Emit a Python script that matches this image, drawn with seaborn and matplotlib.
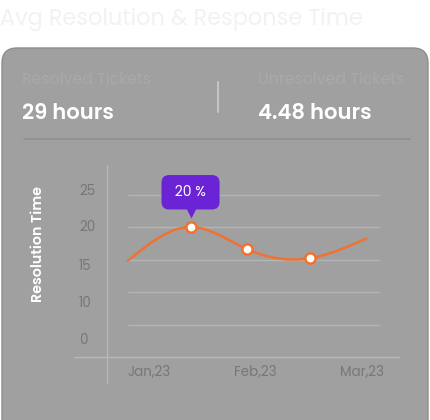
import numpy as np
import pandas as pd
import seaborn as sns
import matplotlib
matplotlib.use("Agg")
import matplotlib.pyplot as plt
from matplotlib.patches import FancyBboxPatch
from matplotlib.lines import Line2D
import matplotlib.transforms as mtransforms

# ---- data ----
month_labels = ["Jan,23", "Feb,23", "Mar,23"]
month_pos = [0, 1, 2]
point_x = [-0.2, 0.39, 0.92, 1.51, 2.04]
point_y = [14.8, 20.0, 16.6, 15.2, 18.2]
marker_idx = [1, 2, 3]
grid_values = [5, 10, 15, 20, 25]
ytick_labels = ["0", "10", "15", "20", "25"]
ytick_pos = [2.9, 8.6, 14.3, 20.2, 25.8]
tooltip_text = "20 %"
title_text = "Avg Resolution & Response Time"
kpi_labels = ["Resolved Tickets", "Unresolved Tickets"]
kpi_values = ["29 hours", "4.48 hours"]


def natural_spline(x, y, n=300):
    x = np.asarray(x, float); y = np.asarray(y, float)
    k = len(x); h = np.diff(x)
    A = np.zeros((k, k)); b = np.zeros(k)
    A[0, 0] = A[-1, -1] = 1
    for i in range(1, k - 1):
        A[i, i - 1] = h[i - 1]; A[i, i] = 2 * (h[i - 1] + h[i]); A[i, i + 1] = h[i]
        b[i] = 6 * ((y[i + 1] - y[i]) / h[i] - (y[i] - y[i - 1]) / h[i - 1])
    M = np.linalg.solve(A, b)
    xs = np.linspace(x[0], x[-1], n); ys = np.empty_like(xs)
    for j, t in enumerate(xs):
        i = min(np.searchsorted(x, t, side="right") - 1, k - 2)
        a = x[i + 1] - t; c = t - x[i]
        ys[j] = (M[i] * a**3 + M[i + 1] * c**3) / (6 * h[i]) + \
                (y[i] / h[i] - M[i] * h[i] / 6) * a + (y[i + 1] / h[i] - M[i + 1] * h[i] / 6) * c
    return xs, ys


sns.set_theme(style="white")
plt.rcParams["font.family"] = ["Poppins", "Open Sans", "DejaVu Sans"]

W, H = 430, 420
fig = plt.figure(figsize=(W / 100, H / 100), dpi=100)
fig.patch.set_facecolor("white")

def fx(px): return px / W
def fy(py): return 1 - py / H

# card
card = FancyBboxPatch((fx(2), -0.1), fx(426), fy(48) + 0.1,
                      boxstyle="round,pad=0,rounding_size=0.035",
                      mutation_aspect=W / H, transform=fig.transFigure,
                      fc="#a0a0a0", ec="#8c8c8c", lw=1.0, zorder=-5)
fig.patches.append(card)

fig.text(fx(0), fy(19.5), title_text, fontsize=16.1, color="#f2f2f2", va="center", ha="left")
fig.text(fx(22), fy(80), kpi_labels[0], fontsize=11.4, color="#a9a9a9", va="center", ha="left")
fig.text(fx(258), fy(80), kpi_labels[1], fontsize=11.4, color="#a9a9a9", va="center", ha="left")
fig.text(fx(22), fy(114.5), kpi_values[0], fontsize=15.2, color="white", weight="semibold", va="center", ha="left")
fig.text(fx(258), fy(114.5), kpi_values[1], fontsize=15.2, color="white", weight="semibold", va="center", ha="left")
fig.lines.append(Line2D([fx(217.5), fx(217.5)], [fy(82), fy(112)], transform=fig.transFigure,
                        color="#c4c4c4", lw=1.5))
fig.lines.append(Line2D([fx(24), fx(410)], [fy(139.5), fy(139.5)], transform=fig.transFigure,
                        color="#8f8f8f", lw=1.2))
fig.text(fx(38), fy(244), "Resolution Time", fontsize=10.3, color="white", weight="semibold",
         rotation=90, va="center", ha="center")

# chart axes: pixel x 74..400, y 165..384
ax = fig.add_axes([fx(74), fy(384), fx(326), (384 - 165) / H])
ax.set_zorder(2)
ax.set_facecolor("none")
for s in ax.spines.values():
    s.set_visible(False)
xpx = lambda p: (p - 149) / 106.5
ypx = lambda p: (357 - p) / 6.5
ax.set_xlim(xpx(74), xpx(400))
ax.set_ylim(ypx(384), ypx(165))

ax.hlines(grid_values, xpx(128), xpx(380), color="#b5b5b5", lw=1.0, zorder=1)
ax.axhline(0, color="#b8b8b8", lw=1.0, zorder=1)
ax.axvline(xpx(107), color="#b8b8b8", lw=0.9, zorder=1)

xs, ys = natural_spline(point_x, point_y)
df_line = pd.DataFrame({"x": xs, "y": ys})
sns.lineplot(data=df_line, x="x", y="y", ax=ax, color="#f07232", lw=1.8, zorder=3,
             estimator=None, sort=False)
df_pts = pd.DataFrame({"x": [point_x[i] for i in marker_idx], "y": [point_y[i] for i in marker_idx]})
sns.scatterplot(data=df_pts, x="x", y="y", ax=ax, s=55, color="white", edgecolor="#f07232",
                linewidth=1.8, zorder=4)

ax.set_xticks(month_pos)
ax.set_xticklabels(month_labels)
ax.set_yticks(ytick_pos)
ax.set_yticklabels(ytick_labels)
ax.tick_params(axis="x", length=0, pad=-13.5, labelsize=9.7, labelcolor="#777777")
ax.tick_params(axis="y", length=0, pad=-3.6, labelsize=9.7, labelcolor="#777777")
for lab in ax.get_yticklabels():
    lab.set_horizontalalignment("left")
ax.set_xlabel(""); ax.set_ylabel("")

# tooltip
px_, py_ = point_x[1], point_y[1]
ax.annotate(" " + tooltip_text + " ", xy=(px_, py_), xytext=(0, 25), textcoords="offset points",
            ha="center", va="center", fontsize=10, color="white", zorder=6,
            bbox=dict(boxstyle="round,pad=0.7,rounding_size=0.55", fc="#6a24d6", ec="none"))
tri = mtransforms.offset_copy(ax.transData, fig=fig, x=0, y=14.5, units="dots")
ax.plot([px_], [py_], marker="v", ms=7, color="#6a24d6", mec="none", transform=tri, zorder=5,
        clip_on=False)

fig.savefig("out.png", dpi=100, facecolor="white")
